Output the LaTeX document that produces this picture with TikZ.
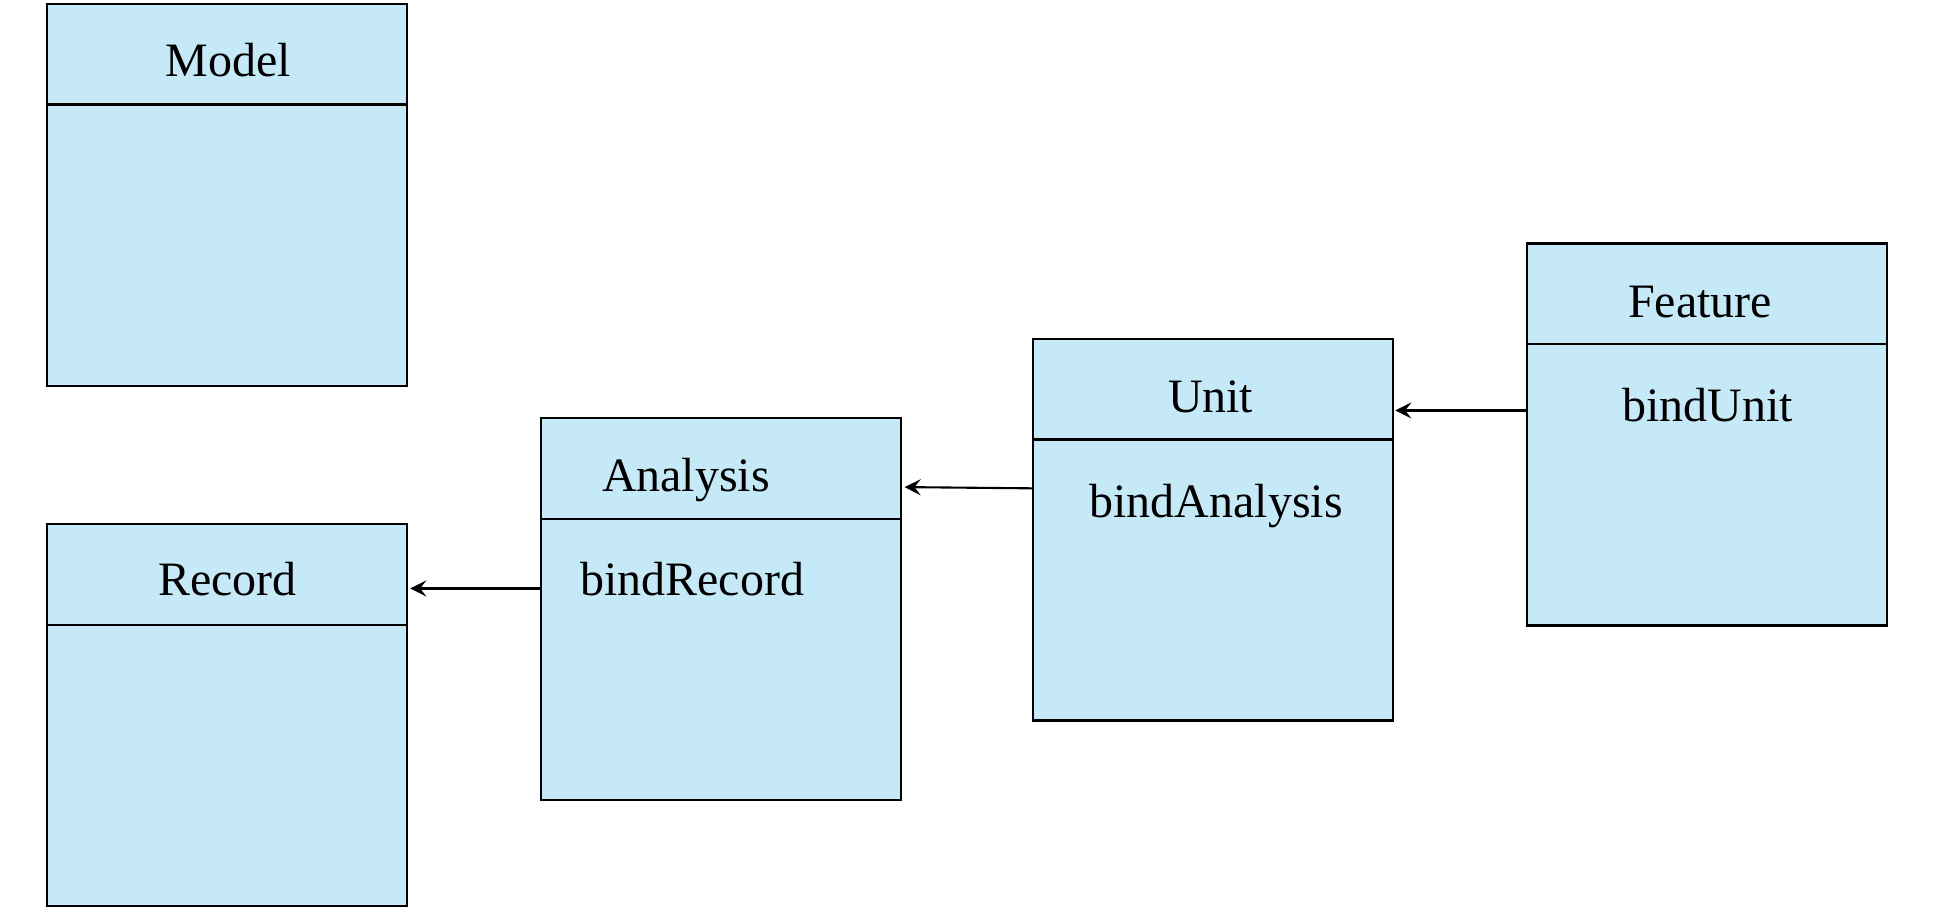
\documentclass[tikz,border=0pt]{standalone}
\usepackage{fontspec}
\setmainfont{Liberation Serif}
\usetikzlibrary{arrows.meta}
\definecolor{clsblue}{RGB}{198,233,248}

\begin{document}
\begin{tikzpicture}[x=0.5pt,y=-0.5pt,line width=0.9pt]
   \tikzset{cls/.style={draw=black,fill=clsblue,rectangle,inner sep=0pt,minimum width=145.5pt,minimum height=154.5pt},
            txt/.style={anchor=base,inner sep=0pt,font=\fontsize{19.4}{23}\selectfont},
            link/.style={-{Stealth[length=6.5pt,width=6.5pt,inset=2.5pt]},line width=0.85pt}};
   \useasboundingbox (0,0) rectangle (1568,738);
   \node[cls] (0) at (183.5,157.5) {};
\node[cls] (1) at (183.5,578.5) {};
\node[cls] (2) at (583.5,492.5) {};
\node[cls] (3) at (981.5,428.5) {};
\node[cls] (4) at (1381,351.5) {};

\foreach \b in {0,...,4}
   \draw ([yshift=-41.25pt]\b.north west) -- ([yshift=-41.25pt]\b.north east);

\node[txt] (t0) at (184.5,62) {Model};
\node[txt] (t1) at (184,482) {Record};
\node[txt] (t2) at (555,398) {Analysis};
\node[txt] (t3) at (979.5,334) {Unit};
\node[txt] (t4) at (1375.5,256.5) {Feature};
\node[txt] (m2) at (560,482) {bindRecord};
\node[txt] (m3) at (984,419) {bindAnalysis};
\node[txt] (m4) at (1381.5,341) {bindUnit};

\draw[link] ([yshift=-69.5pt]2.north west) -- ([xshift=1pt,yshift=-26.5pt]1.north east);
\draw[link] ([yshift=-61pt]3.north west) -- ([xshift=1pt,yshift=-28.5pt]2.north east);
\draw[link] ([yshift=-68pt]4.north west) -- ([xshift=0.5pt,yshift=-29.5pt]3.north east);
   
\end{tikzpicture}
\end{document}
